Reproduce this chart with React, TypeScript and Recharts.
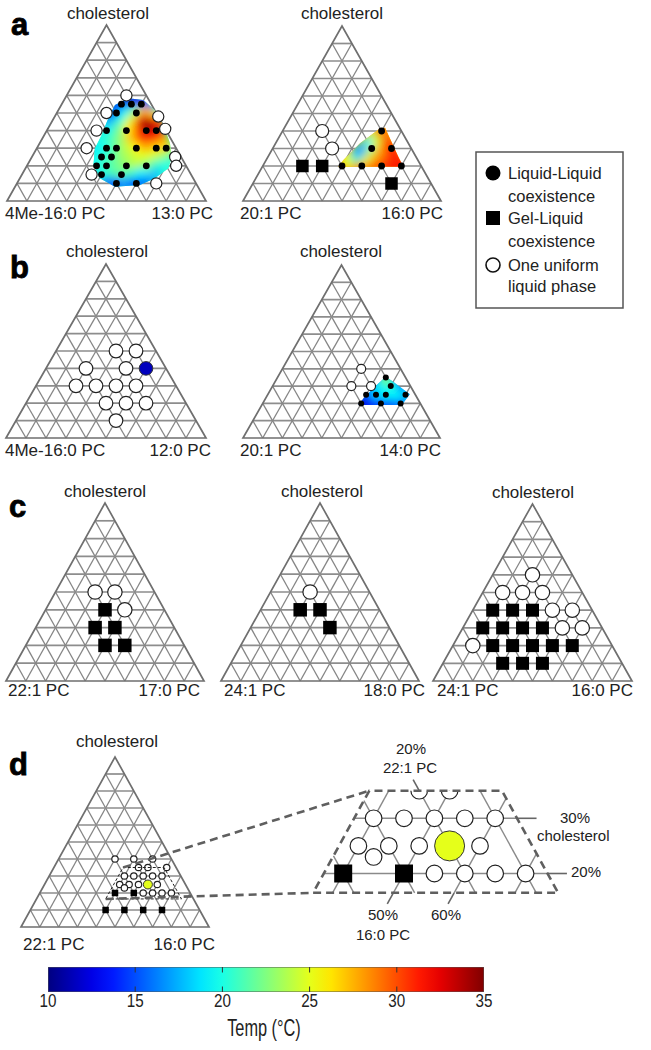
import React from 'react';
import { ScatterChart, Scatter, XAxis, YAxis } from 'recharts';

type CR = [number, number]; // [cholesterol %, right-hand lipid %]
type CRT = [number, number, number]; // [cholesterol %, right lipid %, temperature °C]
type Geo = { left: number; baseY: number; s: number; h: number };

// ---------------- data ----------------
// panel a, left: 4Me-16:0 PC / 13:0 PC / cholesterol
const A1_LL: CR[] = [[55,30],[55,35],[55,40],[50,30],[50,40],[40,30],[40,40],[40,50],[40,55],[30,35],[30,40],[30,50],[30,60],[30,65],[25,35],[25,40],[20,35],[20,40],[20,50],[20,60],[15,40],[15,50],[10,50],[10,60]];
const A1_ONE: CR[] = [[60,30],[50,25],[48,52],[41,59],[40,25],[30,25],[25,72],[20,75],[15,35],[10,70]];
const A1_HULL: CR[] = [[54.5,27],[58.4,31.8],[57.4,39.8],[50.7,49.8],[41.3,58.7],[32.8,65.5],[25.2,70.2],[18.6,71.8],[12.9,67.9],[9.1,62.3],[8.1,50.2],[12.9,40.2],[20.5,33.2],[29.9,29.2],[37.5,28.8],[47,27.4]];
const A1_HEAT: CRT[] = [
  [57,32,11],[58,36,11],[57,40,12],[55,30,12],[55,35,13],[55,40,14],[53,45,16],[54,27,13],
  [50,27,15],[50,30,16],[50,35,19],[50,40,23],[50,45,28],[48,50,25],
  [45,28,17],[45,35,20],[45,40,25],[45,45,31],[45,50,33],[45,53,30],
  [42,48,34],[41,51,35],[40,50,35],[40,55,33],[38,52,34],[40,45,30],[40,40,26],[40,35,22],[40,30,19],
  [35,30,20],[35,35,21],[35,40,23],[35,45,27],[35,50,31],[35,55,31],[35,60,28],[37,58,31],
  [30,30,19],[30,35,20],[30,40,22],[30,45,24],[30,50,26],[30,55,28],[30,60,27],[30,65,25],[32,63,27],
  [25,30,19],[25,35,20],[25,40,21],[25,45,23],[25,50,24],[25,55,25],[25,60,25],[25,65,24],[25,70,22],
  [20,33,19],[20,35,20],[20,40,21],[20,45,22],[20,50,23],[20,55,24],[20,60,23],[20,65,21],[20,70,20],
  [15,35,18],[15,40,20],[15,45,21],[15,50,22],[15,55,21],[15,60,19],[15,67,18],
  [10,45,16],[10,50,17],[10,55,17],[10,60,17],[10,65,16],[8,50,15],[8,60,15],
];
// panel a, right: 20:1 PC / 16:0 PC
const A2_LL: CR[] = [[40,50],[30,50],[30,60],[20,40],[20,50],[20,60],[20,70]];
const A2_GL: CR[] = [[20,20],[20,30],[10,70]];
const A2_ONE: CR[] = [[40,20],[30,30]];
const A2_HULL: CR[] = [[19.6,38.3],[19.6,71.2],[25.3,65.8],[41.9,50.8],[41.5,48.4],[33,42.6],[23.4,39]];
const A2_HEAT: CRT[] = [
  [20,40,28],[20,45,28],[20,50,29],[20,55,30],[20,60,31],[20,65,32],[20,70,32],
  [23,41,25],[25,45,22],[25,50,25],[25,55,28],[25,60,30],[25,65,31],
  [28,44,18],[30,46,17],[30,50,24],[30,55,28],[30,60,31],
  [34,47,19],[35,50,25],[35,55,30],[38,49,24],[40,50,28],[41,50,29],
];
// panel b, left: 4Me-16:0 PC / 12:0 PC
const B1_ONE: CR[] = [[50,30],[50,40],[40,20],[40,40],[30,20],[30,30],[30,40],[30,50],[20,40],[20,50],[20,60],[10,50]];
const B1_LL_T: CRT[] = [[40,50,11.5]];
// panel b, right: 20:1 PC / 14:0 PC
const B2_ONE: CR[] = [[40,40],[30,40],[30,50]];
const B2_LL: CR[] = [[35,55],[30,60],[25,50],[25,55],[25,60],[25,70],[20,50],[20,60],[20,70]];
const B2_HULL: CR[] = [[19.1,49],[19.1,71],[25.3,72],[32.5,60],[35.4,54.7],[30.6,52.6],[23.9,50]];
const B2_HEAT: CRT[] = [
  [20,49,11],[20,52,12],[20,55,13],[20,60,14],[20,65,15],[20,70,16],
  [23,51,13],[25,50,15],[25,55,18],[25,60,19],[25,65,19],[25,70,18],
  [28,53,18],[30,55,19],[30,60,20],[33,56,21],[35,55,22],
];
// panel c
const C1_ONE: CR[] = [[50,20],[50,30],[40,40]];
const C1_GL: CR[] = [[40,30],[30,30],[30,40],[20,40],[20,50]];
const C2_ONE: CR[] = [[50,20]];
const C2_GL: CR[] = [[40,20],[40,30],[30,40]];
const C3_ONE: CR[] = [[60,20],[50,10],[50,20],[50,30],[40,40],[40,50],[30,50],[30,60],[20,10]];
const C3_GL: CR[] = [[40,10],[40,20],[40,30],[30,10],[30,20],[30,30],[30,40],[20,20],[20,30],[20,40],[20,50],[20,60],[10,30],[10,40],[10,50]];
// panel d: 22:1 PC / 16:0 PC
const D_ONE: CR[] = [[35,45],[35,50],[30,40],[30,45],[30,50],[30,55],[30,60],[25,40],[25,45],[25,50],[25,60],[23,43.5],[20,55],[20,60],[20,65],[20,70]];
const D_ONE_OUTSIDE: CR[] = [[40,30],[40,40],[40,50],[35,60]];
const D_GL: CR[] = [[20,40],[20,50],[10,40],[10,50],[10,60],[10,70]];
const D_LL_T: CRT[] = [[25,55,25]];
const TRAP = { cMin: 16.5, cMax: 35, rMin: 36.8, lMin: 6.4 };
const BIG_GRID_C = [20, 30];
const BIG_GRID_R = [40, 50, 60, 70];
const BIG_GRID_L = [10, 20, 30, 40];
// grid & colour bar
const GRID_STEPS = [10, 20, 30, 40, 50, 60, 70, 80, 90];
const CB_TICKS = [10, 15, 20, 25, 30, 35];
const CB_INNER_TICKS = [15, 20, 25, 30];

// ---------------- layout ----------------
const GEO: Record<string, Geo> = {
  a1: { left: 7, baseY: 201, s: 199, h: 176 },
  a2: { left: 243, baseY: 201, s: 198, h: 175 },
  b1: { left: 6, baseY: 438, s: 200, h: 174 },
  b2: { left: 243, baseY: 438, s: 197, h: 173 },
  c1: { left: 6, baseY: 681, s: 198, h: 178 },
  c2: { left: 221, baseY: 681, s: 198, h: 178 },
  c3: { left: 433, baseY: 681, s: 199, h: 177 },
  d1: { left: 21, baseY: 927, s: 188, h: 170 },
};
const BIG = { x0: 404, y0: 873.5, X0: 0.6, C0: 0.2, sx: 608, sy: 552, left: 290, top: 772, w: 300, h: 140 };
const PAD = 14;
const FONT = "'Liberation Sans', Arial, Helvetica, sans-serif";

function jet(t: number): string {
  const v = Math.min(1, Math.max(0, (t - 10) / 25));
  const f = (k: number) => Math.round(255 * Math.min(1, Math.max(0, 1.5 - Math.abs(4 * v - k))));
  return `rgb(${f(3)},${f(2)},${f(1)})`;
}

const toPt = (c: number, r: number) => ({ x: (r + c / 2) / 100, y: c / 100 });
const NoShape = () => <g />;

type LS = { stroke: string; width: number; dash?: string; fill?: string; closed?: boolean };
const GRID_H: LS = { stroke: '#8d8d8d', width: 1.7 };
const GRID_D: LS = { stroke: '#858585', width: 1.3 };
const EDGE: LS = { stroke: '#6f6f6f', width: 1.7, closed: true };

const ptsStr = (p: any) => (p.points || []).map((q: any) => `${q.x},${q.y}`).join(' ');

function lineSeries(key: string, pts: { x: number; y: number }[], st: LS) {
  const draw = (p: any) =>
    st.closed ? (
      <polygon points={ptsStr(p)} fill={st.fill || 'none'} stroke={st.stroke} strokeWidth={st.width} strokeDasharray={st.dash} strokeLinejoin="miter" />
    ) : (
      <polyline points={ptsStr(p)} fill="none" stroke={st.stroke} strokeWidth={st.width} strokeDasharray={st.dash} />
    );
  return <Scatter key={key} data={pts} shape={NoShape} line={draw} isAnimationActive={false} />;
}

function clipSeries(key: string, id: string, pts: { x: number; y: number }[]) {
  const draw = (p: any) => (
    <defs>
      <clipPath id={id}>
        <polygon points={ptsStr(p)} />
      </clipPath>
    </defs>
  );
  return <Scatter key={key} data={pts} shape={NoShape} line={draw} isAnimationActive={false} />;
}

type Kind = 'dot' | 'open' | 'square';
function markerSeries(key: string, pts: CR[], kind: Kind, size: number, clip?: string) {
  const shape = (p: any) => {
    const { cx, cy } = p;
    if (kind === 'square') return <rect x={cx - size / 2} y={cy - size / 2} width={size} height={size} fill="#000" clipPath={clip} />;
    if (kind === 'dot') return <circle cx={cx} cy={cy} r={size} fill="#000" clipPath={clip} />;
    return <circle cx={cx} cy={cy} r={size} fill="#fff" stroke="#222" strokeWidth={1.2} clipPath={clip} />;
  };
  return <Scatter key={key} data={pts.map(([c, r]) => toPt(c, r))} shape={shape} isAnimationActive={false} />;
}

function colorSeries(key: string, pts: CRT[], size: number, clip?: string) {
  return pts.map(([c, r, t], i) => (
    <Scatter
      key={`${key}-${i}`}
      data={[toPt(c, r)]}
      shape={(p: any) => <circle cx={p.cx} cy={p.cy} r={size} fill={jet(t)} stroke="#333" strokeWidth={1} clipPath={clip} />}
      isAnimationActive={false}
    />
  ));
}

function heatSeries(id: string, hull: CR[], samples: CRT[], base: number, radius: number, blur: number) {
  const hullDraw = (p: any) => (
    <g>
      <defs>
        <clipPath id={`clip-${id}`}>
          <polygon points={ptsStr(p)} />
        </clipPath>
        <filter id={`blur-${id}`} x="-30%" y="-30%" width="160%" height="160%">
          <feGaussianBlur stdDeviation={blur} />
        </filter>
      </defs>
      <polygon points={ptsStr(p)} fill={jet(base)} />
    </g>
  );
  const heatDraw = (p: any) => (
    <g clipPath={`url(#clip-${id})`}>
      <g filter={`url(#blur-${id})`}>
        {(p.points || []).map((q: any, i: number) => (
          <circle key={i} cx={q.x} cy={q.y} r={radius} fill={jet(samples[i][2])} />
        ))}
      </g>
    </g>
  );
  return [
    <Scatter key={`${id}-hull`} data={hull.map(([c, r]) => toPt(c, r))} shape={NoShape} line={hullDraw} isAnimationActive={false} />,
    <Scatter key={`${id}-heat`} data={samples.map(([c, r]) => toPt(c, r))} shape={NoShape} line={heatDraw} isAnimationActive={false} />,
  ];
}

function triangleGrid(prefix: string) {
  const out: React.ReactNode[] = [];
  GRID_STEPS.forEach((k) => {
    out.push(lineSeries(`${prefix}-c${k}`, [toPt(k, 0), toPt(k, 100 - k)], GRID_H));
    out.push(lineSeries(`${prefix}-r${k}`, [toPt(0, k), toPt(100 - k, k)], GRID_D));
    out.push(lineSeries(`${prefix}-l${k}`, [toPt(0, 100 - k), toPt(100 - k, 0)], GRID_D));
  });
  out.push(lineSeries(`${prefix}-edge`, [toPt(0, 0), toPt(0, 100), toPt(100, 0)], EDGE));
  return out;
}

function ternaryChart(key: string, geo: Geo, series: React.ReactNode[]) {
  const W = geo.s + 2 * PAD;
  const H = geo.h + 2 * PAD;
  return (
    <div key={key} style={{ position: 'absolute', left: geo.left - PAD, top: geo.baseY - geo.h - PAD, width: W, height: H }}>
      <ScatterChart width={W} height={H} margin={{ top: 0, right: 0, bottom: 0, left: 0 }}>
        <XAxis type="number" dataKey="x" domain={[-PAD / geo.s, 1 + PAD / geo.s]} hide allowDataOverflow />
        <YAxis type="number" dataKey="y" domain={[-PAD / geo.h, 1 + PAD / geo.h]} hide allowDataOverflow />
        {series}
      </ScatterChart>
    </div>
  );
}

const trapCorners = () => [
  toPt(TRAP.cMin, TRAP.rMin),
  toPt(TRAP.cMin, 100 - TRAP.lMin - TRAP.cMin),
  toPt(TRAP.cMax, 100 - TRAP.lMin - TRAP.cMax),
  toPt(TRAP.cMax, TRAP.rMin),
];

function bigGrid() {
  const out: React.ReactNode[] = [];
  const T = TRAP;
  const BG: LS = { stroke: '#8a8a8a', width: 1.4 };
  const BT: LS = { stroke: '#666', width: 1.6 };
  BIG_GRID_C.forEach((k) => out.push(lineSeries(`bg-c${k}`, [toPt(k, T.rMin), toPt(k, 100 - T.lMin - k)], BG)));
  BIG_GRID_R.forEach((k) => {
    const cTop = Math.min(T.cMax, 100 - T.lMin - k);
    if (cTop > T.cMin && k >= T.rMin) out.push(lineSeries(`bg-r${k}`, [toPt(T.cMin, k), toPt(cTop, k)], BG));
  });
  BIG_GRID_L.forEach((k) => {
    const cTop = Math.min(T.cMax, 100 - k - T.rMin);
    if (cTop > T.cMin) out.push(lineSeries(`bg-l${k}`, [toPt(T.cMin, 100 - k - T.cMin), toPt(cTop, 100 - k - cTop)], BG));
  });
  [30, 20].forEach((k) => out.push(lineSeries(`bt-c${k}`, [toPt(k, 100 - T.lMin - k), toPt(k, 100 - (T.lMin - 3.2) - k)], BT)));
  [50, 60].forEach((k) => out.push(lineSeries(`bt-r${k}`, [toPt(T.cMin, k), toPt(T.cMin - 2, k)], BT)));
  out.push(lineSeries('bt-l20', [toPt(T.cMax, 100 - 20 - T.cMax), toPt(T.cMax + 2, 100 - 20 - T.cMax - 2)], BT));
  return out;
}

function bigView() {
  const xDom = [BIG.X0 + (BIG.left - BIG.x0) / BIG.sx, BIG.X0 + (BIG.left + BIG.w - BIG.x0) / BIG.sx];
  const yDom = [BIG.C0 - (BIG.top + BIG.h - BIG.y0) / BIG.sy, BIG.C0 + (BIG.y0 - BIG.top) / BIG.sy];
  const clip = 'url(#trap-big)';
  return (
    <div key="big" style={{ position: 'absolute', left: BIG.left, top: BIG.top, width: BIG.w, height: BIG.h }}>
      <ScatterChart width={BIG.w} height={BIG.h} margin={{ top: 0, right: 0, bottom: 0, left: 0 }}>
        <XAxis type="number" dataKey="x" domain={xDom} hide allowDataOverflow />
        <YAxis type="number" dataKey="y" domain={yDom} hide allowDataOverflow />
        {bigGrid()}
        {clipSeries('big-clip', 'trap-big', trapCorners())}
        {markerSeries('big-one', D_ONE, 'open', 8.3, clip)}
        {markerSeries('big-gl', D_GL, 'square', 18, clip)}
        {colorSeries('big-ll', D_LL_T, 15, clip)}
        {lineSeries('big-trap', trapCorners(), { stroke: '#5f5f5f', width: 2.6, dash: '8 5', closed: true })}
      </ScatterChart>
    </div>
  );
}

function connectors() {
  const g = GEO.d1;
  const small = (c: number, r: number) => ({ x: g.left + (g.s * (r + c / 2)) / 100, y: g.baseY - (g.h * c) / 100 - 730 });
  const big = (c: number, r: number) => ({
    x: BIG.x0 + ((r + c / 2) / 100 - BIG.X0) * BIG.sx,
    y: BIG.y0 - (c / 100 - BIG.C0) * BIG.sy - 730,
  });
  const st: LS = { stroke: '#5f5f5f', width: 2.6, dash: '8 5' };
  return (
    <div key="conn" style={{ position: 'absolute', left: 0, top: 730, width: 651, height: 230, pointerEvents: 'none' }}>
      <ScatterChart width={651} height={230} margin={{ top: 0, right: 0, bottom: 0, left: 0 }}>
        <XAxis type="number" dataKey="x" domain={[0, 651]} hide allowDataOverflow />
        <YAxis type="number" dataKey="y" domain={[0, 230]} reversed hide allowDataOverflow />
        {lineSeries('conn-top', [small(TRAP.cMax, TRAP.rMin), big(TRAP.cMax, TRAP.rMin)], st)}
        {lineSeries('conn-bot', [small(TRAP.cMin, TRAP.rMin), big(TRAP.cMin, TRAP.rMin)], st)}
      </ScatterChart>
    </div>
  );
}

const CbTick = (props: any) => (
  <g transform={`translate(${props.x},${props.y + 7}) scale(0.8,1)`}>
    <text x={0} y={0} textAnchor="middle" fontSize={19} fontFamily={FONT} fill="#222">
      {props.payload.value}
    </text>
  </g>
);

function colorBar() {
  const stops = Array.from({ length: 21 }, (_, i) => i / 20);
  const barDraw = (p: any) => (
    <g>
      <defs>
        <linearGradient id="jetgrad" x1="0" y1="0" x2="1" y2="0">
          {stops.map((s) => (
            <stop key={s} offset={s} stopColor={jet(10 + 25 * s)} />
          ))}
        </linearGradient>
      </defs>
      <polygon points={ptsStr(p)} fill="url(#jetgrad)" stroke="#555" strokeWidth={1} />
    </g>
  );
  const tk: LS = { stroke: '#333', width: 1 };
  return (
    <div key="cb" style={{ position: 'absolute', left: 0, top: 955, width: 651, height: 80 }}>
      <ScatterChart width={651} height={80} margin={{ top: 12, right: 167, bottom: 23, left: 48 }}>
        <XAxis type="number" dataKey="x" domain={[10, 35]} ticks={CB_TICKS} interval={0} axisLine={false} tickLine={false} height={20} tick={CbTick} allowDataOverflow />
        <YAxis type="number" dataKey="y" domain={[0, 1]} hide allowDataOverflow />
        <Scatter key="cb-bar" data={[{ x: 10, y: 0 }, { x: 35, y: 0 }, { x: 35, y: 1 }, { x: 10, y: 1 }]} shape={NoShape} line={barDraw} isAnimationActive={false} />
        {CB_INNER_TICKS.map((t) => lineSeries(`cbt-top-${t}`, [{ x: t, y: 1 }, { x: t, y: 0.78 }], tk))}
        {CB_INNER_TICKS.map((t) => lineSeries(`cbt-bot-${t}`, [{ x: t, y: 0 }, { x: t, y: 0.22 }], tk))}
      </ScatterChart>
    </div>
  );
}

function Labels() {
  const T = (x: number, y: number, s: string, anchor: 'start' | 'middle' | 'end' = 'middle', size = 17) => (
    <text key={`${s}-${x}-${y}`} x={x} y={y} textAnchor={anchor} fontSize={size} fontFamily={FONT} fill="#222">
      {s}
    </text>
  );
  const L = (x: number, y: number, s: string) => (
    <text key={`L${s}`} x={x} y={y} fontSize={31} fontWeight="bold" fontFamily={FONT} fill="#000" stroke="#000" strokeWidth={0.8}>
      {s}
    </text>
  );
  return (
    <svg width={651} height={1050} style={{ position: 'absolute', left: 0, top: 0, pointerEvents: 'none' }}>
      {L(11, 35, 'a')}
      {L(10, 277.5, 'b')}
      {L(9, 517, 'c')}
      {L(9, 775, 'd')}
      {T(108, 19, 'cholesterol')}
      {T(342, 19, 'cholesterol')}
      {T(107, 257.3, 'cholesterol')}
      {T(341, 257.3, 'cholesterol')}
      {T(105, 497.3, 'cholesterol')}
      {T(322, 497.3, 'cholesterol')}
      {T(533, 497.5, 'cholesterol')}
      {T(117, 747.3, 'cholesterol')}
      {T(5, 218.5, '4Me-16:0 PC', 'start')}
      {T(213, 218.5, '13:0 PC', 'end')}
      {T(240, 218.5, '20:1 PC', 'start')}
      {T(443, 218.5, '16:0 PC', 'end')}
      {T(5, 455.5, '4Me-16:0 PC', 'start')}
      {T(211, 455.5, '12:0 PC', 'end')}
      {T(240, 455.5, '20:1 PC', 'start')}
      {T(441, 455.5, '14:0 PC', 'end')}
      {T(8, 696, '22:1 PC', 'start')}
      {T(200, 696, '17:0 PC', 'end')}
      {T(224, 696, '24:1 PC', 'start')}
      {T(425, 696, '18:0 PC', 'end')}
      {T(437, 696, '24:1 PC', 'start')}
      {T(633, 696, '16:0 PC', 'end')}
      {T(23, 950, '22:1 PC', 'start')}
      {T(215, 950, '16:0 PC', 'end')}
      {T(411, 754, '20%', 'middle', 15)}
      {T(410, 773, '22:1 PC', 'middle', 15)}
      {T(560, 823, '30%', 'start', 15)}
      {T(537, 841, 'cholesterol', 'start', 15)}
      {T(571, 877, '20%', 'start', 15)}
      {T(383, 920, '50%', 'middle', 15)}
      {T(383, 940, '16:0 PC', 'middle', 15)}
      {T(446, 920, '60%', 'middle', 15)}
      {/* legend */}
      <rect x={476} y={152} width={147} height={156} fill="#fff" stroke="#555" strokeWidth={1.5} />
      <circle cx={493} cy={173} r={7.5} fill="#000" />
      <rect x={486} y={211} width={14} height={14} fill="#000" />
      <circle cx={493} cy={265} r={7} fill="#fff" stroke="#111" strokeWidth={1.6} />
      {T(508, 179, 'Liquid-Liquid', 'start', 16.5)}
      {T(508, 201.7, 'coexistence', 'start', 16.5)}
      {T(508, 224.3, 'Gel-Liquid', 'start', 16.5)}
      {T(508, 246.7, 'coexistence', 'start', 16.5)}
      {T(508, 270.7, 'One uniform', 'start', 16.5)}
      {T(508, 291.7, 'liquid phase', 'start', 16.5)}
      <text x={0} y={0} transform="translate(264,1036) scale(0.68,1)" textAnchor="middle" fontSize={24} fontFamily={FONT} fill="#222">
        Temp (°C)
      </text>
    </svg>
  );
}

export default function App() {
  const d1Clip = undefined;
  return (
    <div style={{ position: 'absolute', left: 0, top: 0, width: 651, height: 1050, background: '#fff', overflow: 'hidden' }}>
      {ternaryChart('a1', GEO.a1, [
        ...triangleGrid('a1'),
        ...heatSeries('a1', A1_HULL, A1_HEAT, 21, 7, 4),
        markerSeries('a1-one', A1_ONE, 'open', 5.6),
        markerSeries('a1-ll', A1_LL, 'dot', 3.4),
      ])}
      {ternaryChart('a2', GEO.a2, [
        ...triangleGrid('a2'),
        ...heatSeries('a2', A2_HULL, A2_HEAT, 27, 7, 4),
        markerSeries('a2-one', A2_ONE, 'open', 6.5),
        markerSeries('a2-gl', A2_GL, 'square', 12.5),
        markerSeries('a2-ll', A2_LL, 'dot', 3.4),
      ])}
      {ternaryChart('b1', GEO.b1, [
        ...triangleGrid('b1'),
        markerSeries('b1-one', B1_ONE, 'open', 6.8),
        ...colorSeries('b1-ll', B1_LL_T, 6.8),
      ])}
      {ternaryChart('b2', GEO.b2, [
        ...triangleGrid('b2'),
        ...heatSeries('b2', B2_HULL, B2_HEAT, 17, 6, 3.5),
        markerSeries('b2-one', B2_ONE, 'open', 4.5),
        markerSeries('b2-ll', B2_LL, 'dot', 3),
      ])}
      {ternaryChart('c1', GEO.c1, [
        ...triangleGrid('c1'),
        markerSeries('c1-one', C1_ONE, 'open', 7.2),
        markerSeries('c1-gl', C1_GL, 'square', 13.5),
      ])}
      {ternaryChart('c2', GEO.c2, [
        ...triangleGrid('c2'),
        markerSeries('c2-one', C2_ONE, 'open', 7.2),
        markerSeries('c2-gl', C2_GL, 'square', 13.5),
      ])}
      {ternaryChart('c3', GEO.c3, [
        ...triangleGrid('c3'),
        markerSeries('c3-one', C3_ONE, 'open', 7.2),
        markerSeries('c3-gl', C3_GL, 'square', 13),
      ])}
      {ternaryChart('d1', GEO.d1, [
        ...triangleGrid('d1'),
        markerSeries('d1-one', D_ONE, 'open', 3.2, d1Clip),
        markerSeries('d1-out', D_ONE_OUTSIDE, 'open', 3.2),
        markerSeries('d1-gl', D_GL, 'square', 6.5),
        ...colorSeries('d1-ll', D_LL_T, 4.5),
        lineSeries('d1-trap', trapCorners(), { stroke: '#222', width: 1, dash: '3 2', closed: true }),
      ])}
      {bigView()}
      {connectors()}
      {colorBar()}
      <Labels />
    </div>
  );
}
